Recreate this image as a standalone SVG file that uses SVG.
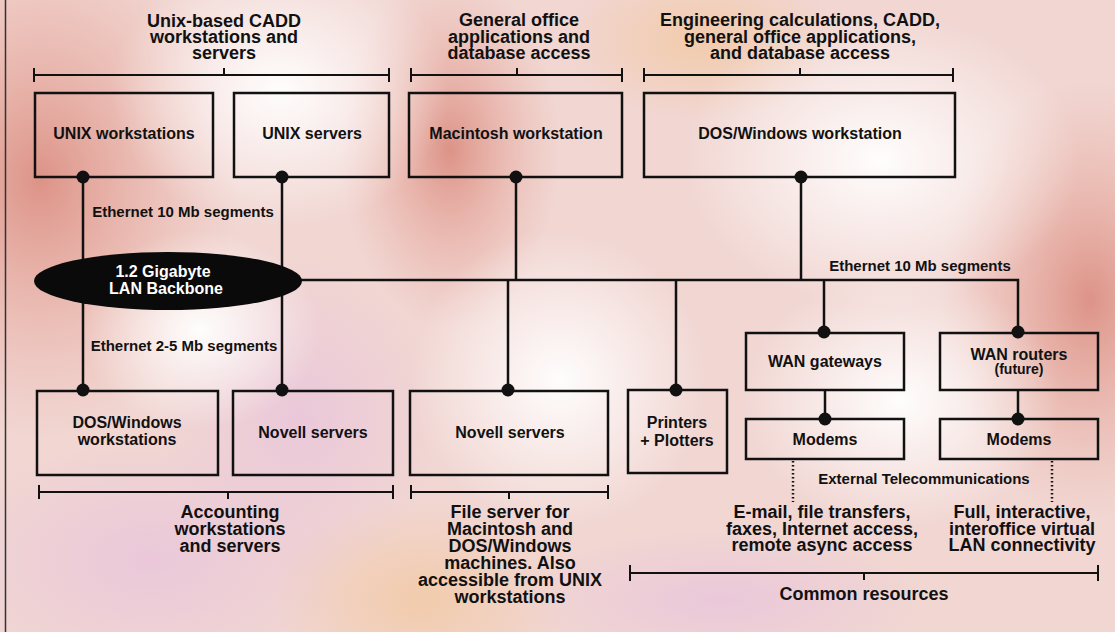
<svg xmlns="http://www.w3.org/2000/svg" width="1115" height="632" viewBox="0 0 1115 632">
<defs>
<radialGradient id="sal" cx="0.5" cy="0.5" r="0.5"><stop offset="0" stop-color="#d9877a" stop-opacity="0.85"/><stop offset="1" stop-color="#e9a89a" stop-opacity="0"/></radialGradient>
<radialGradient id="wht" cx="0.5" cy="0.5" r="0.5"><stop offset="0" stop-color="#ffffff" stop-opacity="0.95"/><stop offset="1" stop-color="#ffffff" stop-opacity="0"/></radialGradient>
<radialGradient id="lav" cx="0.5" cy="0.5" r="0.5"><stop offset="0" stop-color="#e8c4dc" stop-opacity="0.8"/><stop offset="1" stop-color="#e8c4dc" stop-opacity="0"/></radialGradient>
<radialGradient id="peach" cx="0.5" cy="0.5" r="0.5"><stop offset="0" stop-color="#f2c9a4" stop-opacity="0.85"/><stop offset="1" stop-color="#f2c9a4" stop-opacity="0"/></radialGradient>
</defs>
<style>
text{font-family:"Liberation Sans",Arial,sans-serif;font-weight:bold;fill:#111;text-anchor:middle}
.box{fill:none;stroke:#111;stroke-width:2.5}
.ln{fill:none;stroke:#111;stroke-width:2.5}
.br{fill:none;stroke:#111;stroke-width:2}
.dot{fill:#111}
.dash{fill:none;stroke:#111;stroke-width:2.5;stroke-dasharray:1.5 2.5}
.t16{font-size:16px}
.t18{font-size:18px}
.t15{font-size:15px}
.t14{font-size:14px}
</style>
<!-- background -->
<rect x="0" y="0" width="1115" height="632" fill="#f1d6d2"/>
<ellipse cx="40" cy="180" rx="200" ry="260" fill="url(#sal)"/>
<ellipse cx="450" cy="150" rx="110" ry="180" fill="url(#sal)"/>
<ellipse cx="1090" cy="300" rx="150" ry="220" fill="url(#sal)"/>
<ellipse cx="420" cy="600" rx="150" ry="100" fill="url(#peach)"/>
<ellipse cx="700" cy="40" rx="140" ry="80" fill="url(#peach)"/>
<ellipse cx="300" cy="420" rx="140" ry="160" fill="url(#lav)"/>
<ellipse cx="150" cy="560" rx="200" ry="120" fill="url(#lav)"/>
<ellipse cx="280" cy="90" rx="170" ry="140" fill="url(#wht)"/>
<ellipse cx="880" cy="160" rx="200" ry="150" fill="url(#wht)"/>
<ellipse cx="560" cy="380" rx="150" ry="150" fill="url(#wht)"/>
<ellipse cx="900" cy="400" rx="160" ry="130" fill="url(#wht)"/>
<ellipse cx="200" cy="330" rx="120" ry="100" fill="url(#wht)"/>
<ellipse cx="720" cy="600" rx="200" ry="70" fill="url(#lav)"/>
<line x1="5.5" y1="0" x2="5.5" y2="632" stroke="#333" stroke-width="1.5"/>

<!-- brackets and captions -->
<g id="caption-unix">
<path class="br" d="M34 68V82M34 75H389M389 68V82M224 68V75"/>
<text class="t18" x="224" y="27"><tspan x="224">Unix-based CADD</tspan><tspan x="224" dy="16">workstations and</tspan><tspan x="224" dy="16">servers</tspan></text>
</g>
<g id="caption-mac">
<path class="br" d="M411 68V82M411 75H622M622 68V82M517 68V75"/>
<text class="t18" x="519" y="26"><tspan x="519">General office</tspan><tspan x="519" dy="16.5">applications and</tspan><tspan x="519" dy="16.5">database access</tspan></text>
</g>
<g id="caption-dos">
<path class="br" d="M644 68V82M644 75H953M953 68V82M800 68V75"/>
<text class="t18" x="800" y="26"><tspan x="800">Engineering calculations, CADD,</tspan><tspan x="800" dy="16.5">general office applications,</tspan><tspan x="800" dy="16.5">and database access</tspan></text>
</g>
<g id="caption-accounting">
<path class="br" d="M39 485V499M39 492H393M393 485V499M228 492V499"/>
<text class="t18" x="230" y="518"><tspan x="230">Accounting</tspan><tspan x="230" dy="17">workstations</tspan><tspan x="230" dy="17">and servers</tspan></text>
</g>
<g id="caption-fileserver">
<path class="br" d="M411 485V499M411 492H608M608 485V499M509 492V499"/>
<text class="t18" x="510" y="518"><tspan x="510">File server for</tspan><tspan x="510" dy="17">Macintosh and</tspan><tspan x="510" dy="17">DOS/Windows</tspan><tspan x="510" dy="17">machines. Also</tspan><tspan x="510" dy="17">accessible from UNIX</tspan><tspan x="510" dy="16.5">workstations</tspan></text>
</g>
<g id="caption-common">
<path class="br" d="M630 565V581M630 573H1098M1098 565V581M864 573V580"/>
<text class="t18" x="864" y="600">Common resources</text>
</g>

<!-- connectors -->
<g id="connectors">
<path class="ln" d="M83 177V390M282 177V390"/>
<path class="ln" d="M300 280H1018V332"/>
<path class="ln" d="M516 177V280M801 177V280M508 280V390M676 280V390M824 280V332"/>
<path class="ln" d="M825 390V419M1018 390V419"/>
<path class="dash" d="M793 461V502M1052 461V502"/>
<circle class="dot" cx="83" cy="177" r="6.5"/>
<circle class="dot" cx="282" cy="177" r="6.5"/>
<circle class="dot" cx="516" cy="177" r="6.5"/>
<circle class="dot" cx="801" cy="177" r="6.5"/>
<circle class="dot" cx="83" cy="390" r="6.5"/>
<circle class="dot" cx="282" cy="390" r="6.5"/>
<circle class="dot" cx="508" cy="390" r="6.5"/>
<circle class="dot" cx="676" cy="390" r="6.5"/>
<circle class="dot" cx="824" cy="332" r="6.5"/>
<circle class="dot" cx="1018" cy="332" r="6.5"/>
<circle class="dot" cx="825" cy="419" r="6.5"/>
<circle class="dot" cx="1018" cy="419" r="6.5"/>
<text class="t15" x="183" y="217">Ethernet 10 Mb segments</text>
<text class="t15" x="184" y="351">Ethernet 2-5 Mb segments</text>
<text class="t15" x="920" y="271">Ethernet 10 Mb segments</text>
<text class="t15" x="924" y="484">External Telecommunications</text>
</g>

<!-- backbone -->
<g id="backbone">
<ellipse cx="168" cy="281" rx="134" ry="29" fill="#0a0a0a"/>
<text class="t16" x="163" y="277" style="fill:#fff"><tspan x="163">1.2 Gigabyte</tspan><tspan x="166" dy="17">LAN Backbone</tspan></text>
</g>

<!-- nodes -->
<g id="unix-workstations"><rect class="box" x="35" y="93" width="178" height="84"/><text class="t16" x="124" y="139">UNIX workstations</text></g>
<g id="unix-servers"><rect class="box" x="234" y="93" width="155" height="84"/><text class="t16" x="312" y="139">UNIX servers</text></g>
<g id="mac-workstation"><rect class="box" x="409" y="93" width="213" height="84"/><text class="t16" x="516" y="139">Macintosh workstation</text></g>
<g id="dos-workstation"><rect class="box" x="644" y="93" width="311" height="84"/><text class="t16" x="800" y="139">DOS/Windows workstation</text></g>
<g id="dos-workstations"><rect class="box" x="37" y="391" width="181" height="84"/><text class="t16" x="127" y="428"><tspan x="127">DOS/Windows</tspan><tspan x="127" dy="17">workstations</tspan></text></g>
<g id="novell-servers-1"><rect class="box" x="233" y="391" width="160" height="84"/><text class="t16" x="313" y="438">Novell servers</text></g>
<g id="novell-servers-2"><rect class="box" x="410" y="391" width="198" height="84"/><text class="t16" x="510" y="438">Novell servers</text></g>
<g id="printers"><rect class="box" x="628" y="390" width="99" height="83"/><text class="t16" x="677" y="428"><tspan x="677">Printers</tspan><tspan x="677" dy="18">+ Plotters</tspan></text></g>
<g id="wan-gateways"><rect class="box" x="746" y="333" width="158" height="57"/><text class="t16" x="825" y="367">WAN gateways</text></g>
<g id="wan-routers"><rect class="box" x="940" y="333" width="158" height="57"/><text class="t16" x="1019" y="360"><tspan x="1019">WAN routers</tspan><tspan x="1019" dy="14" font-size="14">(future)</tspan></text></g>
<g id="modems-1"><rect class="box" x="746" y="419" width="158" height="40"/><text class="t16" x="825" y="445">Modems</text></g>
<g id="modems-2"><rect class="box" x="940" y="419" width="158" height="40"/><text class="t16" x="1019" y="445">Modems</text></g>

<g id="telecom-notes">
<text class="t18" x="822" y="518"><tspan x="822">E-mail, file transfers,</tspan><tspan x="822" dy="17">faxes, Internet access,</tspan><tspan x="822" dy="16">remote async access</tspan></text>
<text class="t18" x="1022" y="518"><tspan x="1022">Full, interactive,</tspan><tspan x="1022" dy="17">interoffice virtual</tspan><tspan x="1022" dy="16">LAN connectivity</tspan></text>
</g>
</svg>
